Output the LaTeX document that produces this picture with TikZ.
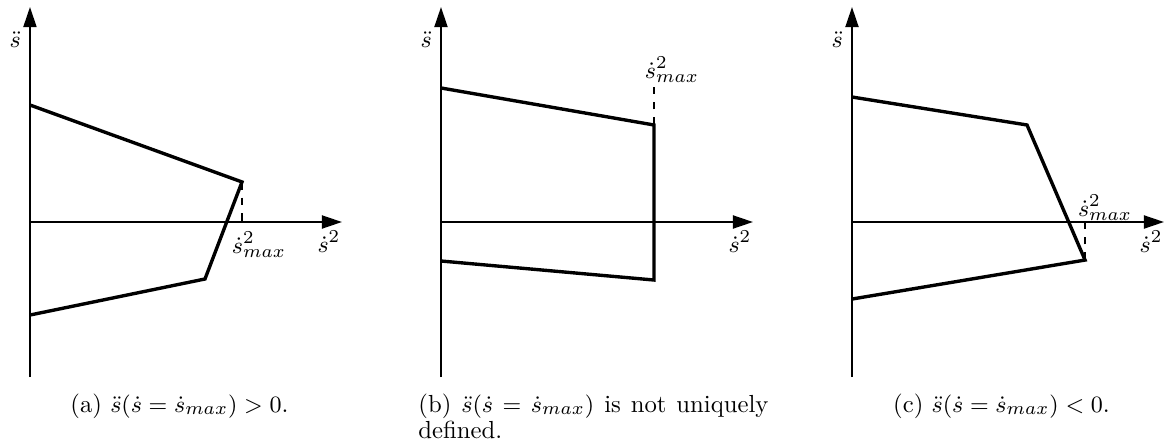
\documentclass[tikz,border=0pt]{standalone}
\usetikzlibrary{arrows.meta}

\begin{document}
\begin{tikzpicture}[
  font=\fontsize{9.5}{10.2}\selectfont,
  ax/.style={line width=0.75pt, -{Triangle[length=7.7pt, width=5pt]}},
  bound/.style={line width=1.3pt, line join=miter},
  vmax/.style={dashed, line width=0.6pt},
  subcap/.style={anchor=base}
]
\useasboundingbox (-0.405,-2.986) rectangle (15.351,3.0);

% (a) positive
\begin{scope}
\coordinate (a-o) at (0,0);
\coordinate (a-bot) at (0,-2.095);
\coordinate (a-top) at (0,2.905);
\coordinate (a-end) at (4.216,0);
\draw[ax] (a-bot) -- (a-top);
\draw[ax] (a-o) -- (a-end);
\node[left] (a-y) at (0,2.459) {$\ddot{s}$};
\node (a-x) at (4.04,-0.27) {$\dot{s}^2$};
\coordinate (a-1) at (0,1.581);
\coordinate (a-2) at (2.865,0.541);
\coordinate (a-3) at (2.365,-0.770);
\coordinate (a-4) at (0,-1.257);
\coordinate (a-m) at (2.865,0);
\draw[bound] (a-1) -- (a-2) -- (a-3) -- (a-4);
\draw[vmax] (a-2) -- (a-m);
\node (a-max) at (3.095,-0.311) {$\dot{s}^2_{max}$};
\node[subcap] (a-cap) at (2.02,-2.568) {(a) $\ddot{s}(\dot{s}=\dot{s}_{max})>0$.};
\end{scope}

% (b) not unique
\begin{scope}[xshift=5.554cm]
\coordinate (b-o) at (0,0);
\coordinate (b-bot) at (0,-2.095);
\coordinate (b-top) at (0,2.905);
\coordinate (b-end) at (4.216,0);
\draw[ax] (b-bot) -- (b-top);
\draw[ax] (b-o) -- (b-end);
\node[left] (b-y) at (0,2.459) {$\ddot{s}$};
\node (b-x) at (4.04,-0.27) {$\dot{s}^2$};
\coordinate (b-1) at (0,1.811);
\coordinate (b-2) at (2.878,1.311);
\coordinate (b-3) at (2.878,-0.784);
\coordinate (b-4) at (0,-0.527);
\coordinate (b-m) at (2.878,1.824);
\draw[bound] (b-1) -- (b-2) -- (b-3) -- (b-4);
\draw[vmax] (b-2) -- (b-m);
\node (b-max) at (3.12,2.054) {$\dot{s}^2_{max}$};
\node[anchor=north west, inner sep=0pt, text width=4.73cm, align=justify] (b-cap)
  at (-0.311,-2.311) {(b) $\ddot{s}(\dot{s}=\dot{s}_{max})$ is not uniquely defined.};
\end{scope}

% (c) negative
\begin{scope}[xshift=11.108cm]
\coordinate (c-o) at (0,0);
\coordinate (c-bot) at (0,-2.095);
\coordinate (c-top) at (0,2.905);
\coordinate (c-end) at (4.216,0);
\draw[ax] (c-bot) -- (c-top);
\draw[ax] (c-o) -- (c-end);
\node[left] (c-y) at (0,2.459) {$\ddot{s}$};
\node (c-x) at (4.04,-0.27) {$\dot{s}^2$};
\coordinate (c-1) at (0,1.689);
\coordinate (c-2) at (2.365,1.311);
\coordinate (c-3) at (3.149,-0.514);
\coordinate (c-4) at (0,-1.041);
\coordinate (c-m) at (3.149,0);
\draw[bound] (c-1) -- (c-2) -- (c-3) -- (c-4);
\draw[vmax] (c-3) -- (c-m);
\node (c-max) at (3.419,0.189) {$\dot{s}^2_{max}$};
\node[subcap] (c-cap) at (2.02,-2.568) {(c) $\ddot{s}(\dot{s}=\dot{s}_{max})<0$.};
\end{scope}
\end{tikzpicture}
\end{document}
